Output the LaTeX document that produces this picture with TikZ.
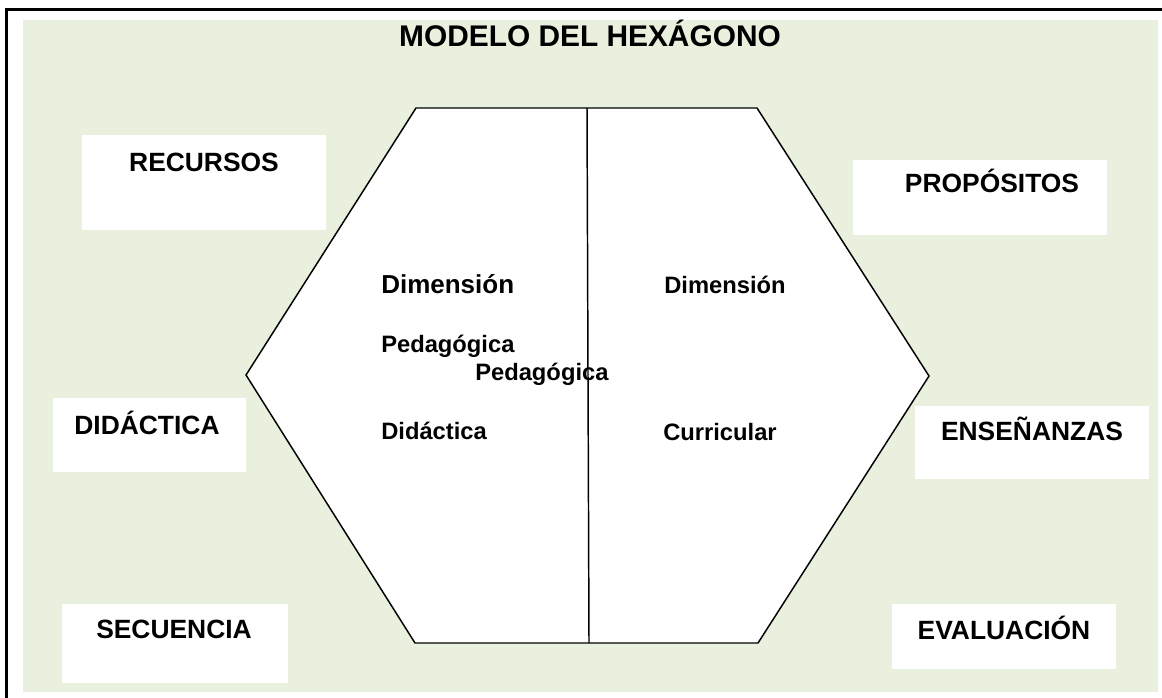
\documentclass[tikz,border=0pt]{standalone}
\usepackage{fontspec}
\setmainfont{Liberation Sans}
\definecolor{bggreen}{RGB}{233,240,221}
\begin{document}
\begin{tikzpicture}[x=0.75pt,y=-0.75pt,
  box/.style={fill=white,draw=none,inner sep=0pt,anchor=north west},
  boxlabel/.style={font=\fontsize{19.8}{22}\selectfont\bfseries,anchor=base,inner sep=0pt},
  inlabel/.style={font=\fontsize{17.8}{20}\selectfont\bfseries,anchor=base west,inner sep=0pt},
  hexline/.style={line width=1.1pt,line join=miter}]
\useasboundingbox (0,0) rectangle (1162,698);
\fill[white] (0,0) rectangle (1162,698);
% frame and background
\fill[bggreen] (23,20) rectangle (1158,692);
\draw[line width=1.6pt] (6.5,698) -- (6.5,9.5) -- (1162,9.5);
% title
\node[font=\fontsize{22.4}{26}\selectfont\bfseries,anchor=base,inner sep=0pt] (title) at (590,47) {MODELO DEL HEXÁGONO};
% hexagon
\coordinate (h1) at (416,108);
\coordinate (h2) at (757,108);
\coordinate (h3) at (929,376);
\coordinate (h4) at (758,643);
\coordinate (h5) at (415,643);
\coordinate (h6) at (246,375);
\filldraw[fill=white,hexline] (h1) -- (h2) -- (h3) -- (h4) -- (h5) -- (h6) -- cycle;
\coordinate (vt) at (587,108);
\coordinate (vb) at (589,643);
\draw[line width=1.1pt] (vt) -- (vb);
% boxes
\node[box,minimum width=244*0.75pt,minimum height=95*0.75pt] (brec) at (82,135) {};
\node[box,minimum width=254*0.75pt,minimum height=75*0.75pt] (bprop) at (853,160) {};
\node[box,minimum width=193*0.75pt,minimum height=74*0.75pt] (bdid) at (53,398) {};
\node[box,minimum width=226*0.75pt,minimum height=79*0.75pt] (bsec) at (62,604) {};
\node[box,minimum width=234*0.75pt,minimum height=73*0.75pt] (bens) at (915,406) {};
\node[box,minimum width=224*0.75pt,minimum height=65*0.75pt] (beva) at (892,604) {};
% box labels
\node[boxlabel] (lrec) at (204,172) {RECURSOS};
\node[boxlabel] (lprop) at (992,193) {PROPÓSITOS};
\node[boxlabel] (ldid) at (147,434) {DIDÁCTICA};
\node[boxlabel] (lsec) at (174,638) {SECUENCIA};
\node[boxlabel] (lens) at (1032,440) {ENSEÑANZAS};
\node[boxlabel] (leva) at (1004,639) {EVALUACIÓN};
% inner labels
\node[inlabel,font=\fontsize{19.5}{22}\selectfont\bfseries] (dimL) at (381,293) {Dimensión};
\node[inlabel] (pedL) at (381,352) {Pedagógica};
\node[inlabel] (pedC) at (475,380) {Pedagógica};
\node[inlabel] (didL) at (381,439) {Didáctica};
\node[inlabel] (dimR) at (664,293) {Dimensión};
\node[inlabel] (curR) at (663,440) {Curricular};
\end{tikzpicture}
\end{document}
